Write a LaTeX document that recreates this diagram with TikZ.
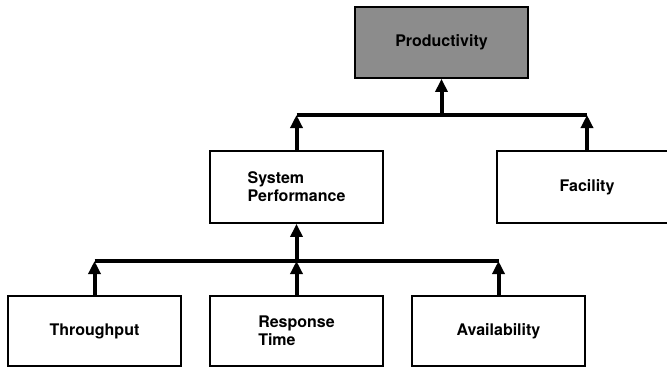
\documentclass[tikz,border=0pt]{standalone}
\usepackage{fontspec}
\setmainfont{TeX Gyre Heros}
\usetikzlibrary{arrows.meta}

\begin{document}
\begin{tikzpicture}[x=1pt,y=-1pt,
    box/.style={draw,line width=1.8pt,minimum width=173pt,align=left,
      font=\fontsize{16}{18}\selectfont\bfseries},
    bar/.style={line width=4pt},
    up/.style={line width=4pt,-{Triangle[width=12pt,length=13pt]}}]
      \useasboundingbox (0,0) rectangle (667,368);
      % top level
      \node[box,fill=black!45,minimum height=71pt] (prod) at (441.5,42.5) {Productivity};
      \node[box,minimum height=72pt] (sysperf) at (296.5,187) {System\\Performance};
      \node[box,minimum height=72pt,minimum width=180pt] (facility) at (587,187) {Facility};
      % bottom row
      \node[box,minimum height=70pt] (thru) at (94.5,331) {Throughput};
      \node[box,minimum height=70pt] (resp) at (296.5,331) {Response\\Time};
      \node[box,minimum height=70pt] (avail) at (498.5,331) {Availability};
      \coordinate (topbar) at (0,115);
      \coordinate (lowbar) at (0,261);
      % upper connectors
      \draw[bar] (sysperf.north |- topbar) -- (facility.north |- topbar);
      \draw[up] (sysperf.north) -- (sysperf.north |- topbar);
      \draw[up] (facility.north) -- (facility.north |- topbar);
      \draw[up] (prod.south |- topbar) -- (prod.south);
      % lower connectors
      \draw[bar] (thru.north |- lowbar) -- (avail.north |- lowbar);
      \draw[up] (thru.north) -- (thru.north |- lowbar);
      \draw[up] (resp.north) -- (resp.north |- lowbar);
      \draw[up] (avail.north) -- (avail.north |- lowbar);
      \draw[up] (resp.north |- lowbar) -- (sysperf.south);
    \end{tikzpicture}
\end{document}
